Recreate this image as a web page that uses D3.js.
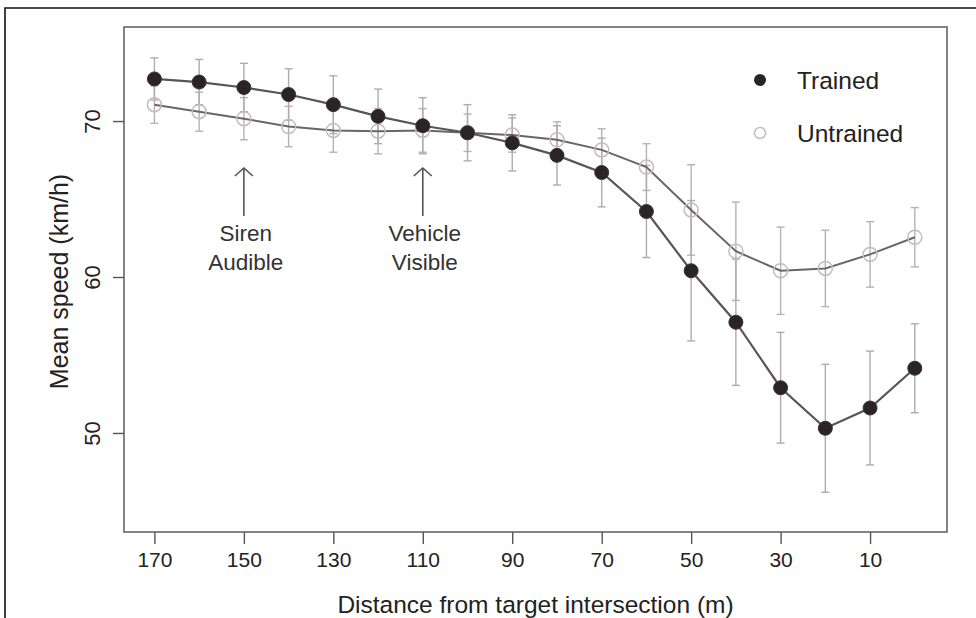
<!DOCTYPE html>
<html>
<head>
<meta charset="utf-8">
<script src="https://cdn.jsdelivr.net/npm/d3@7"></script>
<style>
  html, body { margin: 0; padding: 0; background: #fff; }
  svg { display: block; font-family: "Liberation Sans", Arial, Helvetica, sans-serif; }
</style>
</head>
<body>
<svg id="chart" width="976" height="618"></svg>
<script>
// ---- data ----
const distances = [170,160,150,140,130,120,110,100,90,80,70,60,50,40,30,20,10,0];
const trainedMean   = [72.7,72.5,72.15,71.7,71.05,70.3,69.7,69.25,68.6,67.8,66.7,64.2,60.4,57.1,52.9,50.3,51.6,54.15];
const trainedSE     = [1.35,1.45,1.55,1.65,1.85,1.75,1.8,1.8,1.8,1.9,2.2,2.95,4.5,4.05,3.55,4.1,3.65,2.85];
const untrainedMean = [71.05,70.6,70.15,69.65,69.4,69.35,69.4,69.25,69.1,68.8,68.15,67.05,64.3,61.65,60.4,60.55,61.45,62.55];
const untrainedSE   = [1.2,1.25,1.35,1.3,1.4,1.45,1.4,1.2,1.1,1.15,1.35,1.5,2.9,3.15,2.8,2.45,2.1,1.9];
const xTicks = [170,150,130,110,90,70,50,30,10];
const yTicks = [50,60,70];
const seriesNames = ["Trained","Untrained"];
const annotations = [
  {x:150, lines:["Siren","Audible"]},
  {x:110, lines:["Vehicle","Visible"]}
];

// ---- layout ----
const svg = d3.select("#chart");
const L = 124, R = 947, T = 27, B = 532;
const x = d3.scaleLinear().domain([176.8, -7.2]).range([L, R]);
const y = d3.scaleLinear().domain([43.65, 76.03]).range([B, T]);

// outer frame
svg.append("path").attr("d", `M5,618 L5,8 L976,8`).attr("fill","none")
  .attr("stroke","#111").attr("stroke-width",1.6);

// plot box
svg.append("rect").attr("x",L).attr("y",T).attr("width",R-L).attr("height",B-T)
  .attr("fill","none").attr("stroke","#6a6466").attr("stroke-width",1.6);

// axes
const xAxis = svg.append("g").attr("transform",`translate(0,${B})`)
  .call(d3.axisBottom(x).tickValues(xTicks).tickSize(12).tickPadding(8).tickFormat(d3.format("d")));
xAxis.select(".domain").remove();
xAxis.selectAll("line").attr("stroke","#555").attr("stroke-width",1.4);
xAxis.selectAll("text").attr("font-size",21).attr("fill","#222")
  .attr("font-family","Liberation Sans, Arial, sans-serif");

const yAxis = svg.append("g").attr("transform",`translate(${L},0)`)
  .call(d3.axisLeft(y).tickValues(yTicks).tickSize(11).tickFormat(d3.format("d")));
yAxis.select(".domain").remove();
yAxis.selectAll("line").attr("stroke","#555").attr("stroke-width",1.4);
yAxis.selectAll("text").remove();
yAxis.selectAll(".tick").append("text")
  .attr("transform","translate(-24,0) rotate(-90)")
  .attr("text-anchor","middle").attr("dy","0")
  .attr("font-size",22).attr("fill","#222")
  .attr("font-family","Liberation Sans, Arial, sans-serif")
  .text(d => d);

// axis titles
svg.append("text").attr("x",(L+R)/2).attr("y",613).attr("text-anchor","middle")
  .attr("font-size",24.5).attr("fill","#222").text("Distance from target intersection (m)");
svg.append("text").attr("transform",`translate(68,${(T+B)/2+2}) rotate(-90)`)
  .attr("text-anchor","middle").attr("font-size",25).attr("fill","#222").text("Mean speed (km/h)");

// series
const mk = (means, ses) => distances.map((d,i) => ({d, m: means[i], se: ses[i]}));
const trained = mk(trainedMean, trainedSE);
const untrained = mk(untrainedMean, untrainedSE);

function errorBars(data, color) {
  const g = svg.append("g").attr("stroke", color).attr("stroke-width",1.4);
  data.forEach(p => {
    const cx = x(p.d), y0 = y(p.m - p.se), y1 = y(p.m + p.se);
    g.append("line").attr("x1",cx).attr("x2",cx).attr("y1",y0).attr("y2",y1);
    g.append("line").attr("x1",cx-4).attr("x2",cx+4).attr("y1",y0).attr("y2",y0);
    g.append("line").attr("x1",cx-4).attr("x2",cx+4).attr("y1",y1).attr("y2",y1);
  });
}
const line = d3.line().x(p => x(p.d)).y(p => y(p.m));

errorBars(untrained, "#b9b0b3");
errorBars(trained, "#b3a9ac");

svg.append("path").datum(untrained).attr("d",line).attr("fill","none")
  .attr("stroke","#6b6567").attr("stroke-width",2);
svg.append("g").selectAll("circle").data(untrained).join("circle")
  .attr("cx",p=>x(p.d)).attr("cy",p=>y(p.m)).attr("r",7)
  .attr("fill","none").attr("stroke","#c4bcbe").attr("stroke-width",1.5);

svg.append("path").datum(trained).attr("d",line).attr("fill","none")
  .attr("stroke","#5a5456").attr("stroke-width",2.2);
svg.append("g").selectAll("circle").data(trained).join("circle")
  .attr("cx",p=>x(p.d)).attr("cy",p=>y(p.m)).attr("r",7)
  .attr("fill","#2b2427").attr("stroke","#3a3336").attr("stroke-width",1);

// annotations
annotations.forEach(a => {
  const ax = x(a.x);
  const g = svg.append("g").attr("stroke","#555").attr("stroke-width",1.6).attr("fill","none");
  g.append("line").attr("x1",ax).attr("x2",ax).attr("y1",168).attr("y2",216);
  g.append("path").attr("d",`M${ax-9},${176} L${ax},${168} L${ax+9},${176}`);
  a.lines.forEach((t,i) => {
    svg.append("text").attr("x",ax+2).attr("y",241+i*29).attr("text-anchor","middle")
      .attr("font-size",22.5).attr("fill","#333").text(t);
  });
});

// legend
const legend = svg.append("g");
legend.append("circle").attr("cx",760).attr("cy",80).attr("r",6).attr("fill","#2b2427");
legend.append("circle").attr("cx",760).attr("cy",133).attr("r",5.5).attr("fill","none")
  .attr("stroke","#c4bcbe").attr("stroke-width",1.5);
legend.append("text").attr("x",797).attr("y",89).attr("font-size",24.5).attr("fill","#222").text(seriesNames[0]);
legend.append("text").attr("x",797).attr("y",142).attr("font-size",24.5).attr("fill","#222").text(seriesNames[1]);
</script>
</body>
</html>
